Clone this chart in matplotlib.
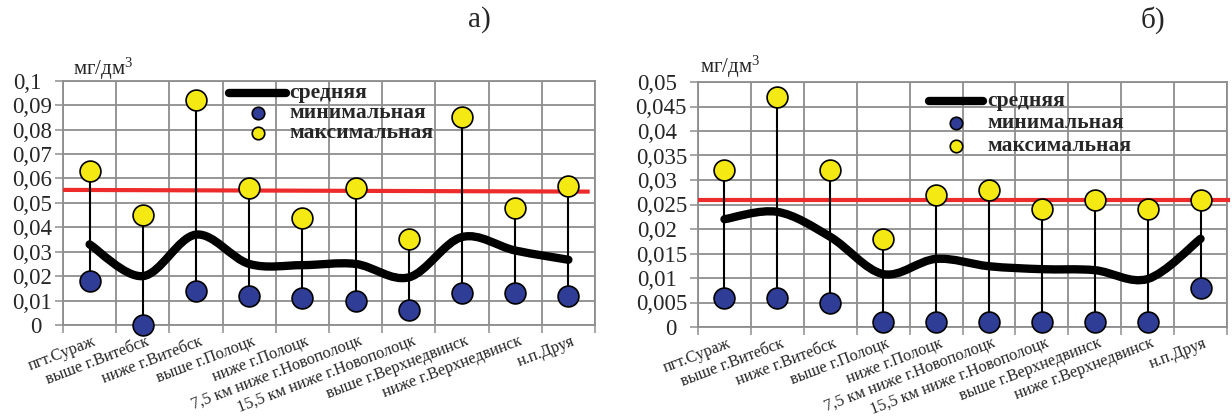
import matplotlib
matplotlib.use("Agg")
import matplotlib.pyplot as plt
import numpy as np
from matplotlib.path import Path
from matplotlib.patches import PathPatch
from matplotlib.lines import Line2D
from matplotlib.transforms import ScaledTranslation
from matplotlib import font_manager

# ---------------- data ----------------
sites = ["пгт.Сураж", "выше г.Витебск", "ниже г.Витебск", "выше г.Полоцк",
         "ниже г.Полоцк", "7,5 км ниже г.Новополоцк", "15,5 км ниже г.Новополоцк",
         "выше г.Верхнедвинск", "ниже г.Верхнедвинск", "н.п.Друя"]

a_max = [0.063, 0.045, 0.092, 0.056, 0.044, 0.056, 0.035, 0.085, 0.048, 0.057]
a_min = [0.018, 0.000, 0.014, 0.012, 0.011, 0.010, 0.006, 0.013, 0.013, 0.012]
a_mean = [0.033, 0.020, 0.037, 0.025, 0.0245, 0.025, 0.0195, 0.036, 0.0305, 0.0267]
a_limit = [0.0553, 0.0546]
a_ticks = ["0", "0,01", "0,02", "0,03", "0,04", "0,05", "0,06", "0,07", "0,08", "0,09", "0,1"]

b_max = [0.032, 0.047, 0.032, 0.018, 0.027, 0.028, 0.024, 0.026, 0.024, 0.026]
b_min = [0.006, 0.006, 0.005, 0.001, 0.001, 0.001, 0.001, 0.001, 0.001, 0.008]
b_mean = [0.022, 0.0235, 0.0184, 0.0108, 0.0139, 0.0124, 0.0118, 0.0116, 0.0098, 0.018]
b_limit = [0.026, 0.026]
b_ticks = ["0", "0,005", "0,01", "0,015", "0,02", "0,025", "0,03", "0,035", "0,04", "0,045", "0,05"]

legend_labels = ["средняя", "минимальная", "максимальная"]
unit_label = "мг/дм$^3$"
titles = ["а)", "б)"]

# ---------------- style ----------------
W, H = 1232, 420
DPI = 100
avail = {f.name for f in font_manager.fontManager.ttflist}
SERIF_NAME = "Liberation Serif" if "Liberation Serif" in avail else "DejaVu Serif"
plt.rcParams["font.family"] = "serif"
plt.rcParams["font.serif"] = [SERIF_NAME, "DejaVu Serif"]
plt.rcParams["mathtext.fontset"] = "custom"
plt.rcParams["mathtext.rm"] = SERIF_NAME
plt.rcParams["mathtext.it"] = SERIF_NAME

GRID = "#8e8e8e"
RED = "#ee2b2b"
BLUE = "#2f3d96"
YELLOW = "#f5e914"
TXT = "#262626"

fig = plt.figure(figsize=(W / DPI, H / DPI), dpi=DPI)


def fx(x):
    return x / W


def fy(y):
    return 1 - y / H


def smooth_path(xs, ys):
    pts = np.column_stack([xs, ys])
    n = len(pts)
    verts = [pts[0]]
    codes = [Path.MOVETO]
    for i in range(n - 1):
        p0 = pts[i - 1] if i > 0 else pts[i]
        p1 = pts[i]
        p2 = pts[i + 1]
        p3 = pts[i + 2] if i + 2 < n else pts[i + 1]
        c1 = p1 + (p2 - p0) / 6.0
        c2 = p2 - (p3 - p1) / 6.0
        verts += [c1, c2, p2]
        codes += [Path.CURVE4] * 3
    return Path(np.array(verts), codes)


def panel(rect_px, vmax, vmin, vmean, limit, ticks, step, limit_x, legend_px, units_px, title_px):
    x0, x1, ytop, ybot = rect_px
    ax = fig.add_axes([fx(x0), fy(ybot), fx(x1 - x0), (ybot - ytop) / H])
    n = len(sites)
    xs = np.arange(n)
    ymax = step * (len(ticks) - 1)
    ax.set_xlim(-0.5, n - 0.5)
    ax.set_ylim(0, ymax)

    ax.set_yticks(np.arange(len(ticks)) * step)
    ax.set_yticklabels(ticks)
    ax.set_xticks(xs)
    ax.set_xticklabels(sites, rotation=21, ha="right", va="top",
                       rotation_mode="anchor", fontsize=11.8, color=TXT)
    ax.set_xticks(np.arange(n + 1) - 0.5, minor=True)
    ax.tick_params(axis="x", which="major", length=0, pad=6)
    ax.tick_params(axis="x", which="minor", length=6, width=1.1, color=GRID)
    ax.tick_params(axis="y", length=6, width=1.1, color=GRID, labelsize=16.5,
                   labelcolor=TXT, pad=2)
    ax.grid(True, axis="y", which="major", color=GRID, lw=1.3)
    ax.grid(True, axis="x", which="minor", color=GRID, lw=1.3)
    ax.set_axisbelow(True)
    for s in ax.spines.values():
        s.set_color(GRID)
        s.set_linewidth(1.3)

    for lab in ax.get_xticklabels():
        lab.set_transform(lab.get_transform() +
                          ScaledTranslation(3 / DPI, 0, fig.dpi_scale_trans))

    maxlen = max(len(t) for t in ticks)
    for lab, t in zip(ax.get_yticklabels(), ticks):
        if len(t) < maxlen:
            lab.set_transform(lab.get_transform() +
                              ScaledTranslation(-10 / DPI, 0, fig.dpi_scale_trans))

    ax.plot(limit_x, limit, color=RED, lw=3.0, zorder=3, clip_on=False,
            solid_capstyle="butt")

    ax.vlines(xs, vmin, vmax, color="black", lw=1.5, zorder=4)

    path = smooth_path(xs.astype(float), np.array(vmean))
    ax.add_patch(PathPatch(path, fill=False, lw=6, edgecolor="black",
                           capstyle="round", joinstyle="round", zorder=5))

    ax.plot(xs, vmin, "o", ms=15, mfc=BLUE, mec="black", mew=1.2, zorder=6, clip_on=False)
    ax.plot(xs, vmax, "o", ms=15, mfc=YELLOW, mec="black", mew=1.2, zorder=6, clip_on=False)

    lx0, lx1, lmk, ltx, ly = legend_px
    fig.add_artist(Line2D([fx(lx0), fx(lx1)], [fy(ly[0]), fy(ly[0])], color="black",
                          lw=6, solid_capstyle="round", transform=fig.transFigure))
    fig.add_artist(Line2D([fx(lmk)], [fy(ly[1])], marker="o", ms=9, mfc=BLUE, mec="black",
                          mew=1.2, transform=fig.transFigure))
    fig.add_artist(Line2D([fx(lmk)], [fy(ly[2])], marker="o", ms=9, mfc=YELLOW, mec="black",
                          mew=1.2, transform=fig.transFigure))
    for lab, yy in zip(legend_labels, ly):
        fig.text(fx(ltx), fy(yy), lab, fontsize=15.5, fontweight="bold", color=TXT,
                 ha="left", va="center")

    fig.text(fx(units_px[0]), fy(units_px[1]), unit_label, fontsize=15, color=TXT,
             ha="left", va="baseline")
    fig.text(fx(title_px[0]), fy(title_px[1]), title_px[2], fontsize=21, color=TXT,
             ha="center", va="center")
    return ax


panel((63, 595, 80.7, 325), a_max, a_min, a_mean, a_limit, a_ticks, 0.01,
      [-0.5, 9.4], (229, 286, 258, 289, [93, 113, 133]), (73, 75), (479, 20, titles[0]))
panel((698, 1227, 82, 327), b_max, b_min, b_mean, b_limit, b_ticks, 0.005,
      [-0.5, 9.55], (929, 983, 956, 987, [101, 123, 146]), (700, 73), (1153, 20, titles[1]))

fig.savefig("out.png", dpi=DPI)
